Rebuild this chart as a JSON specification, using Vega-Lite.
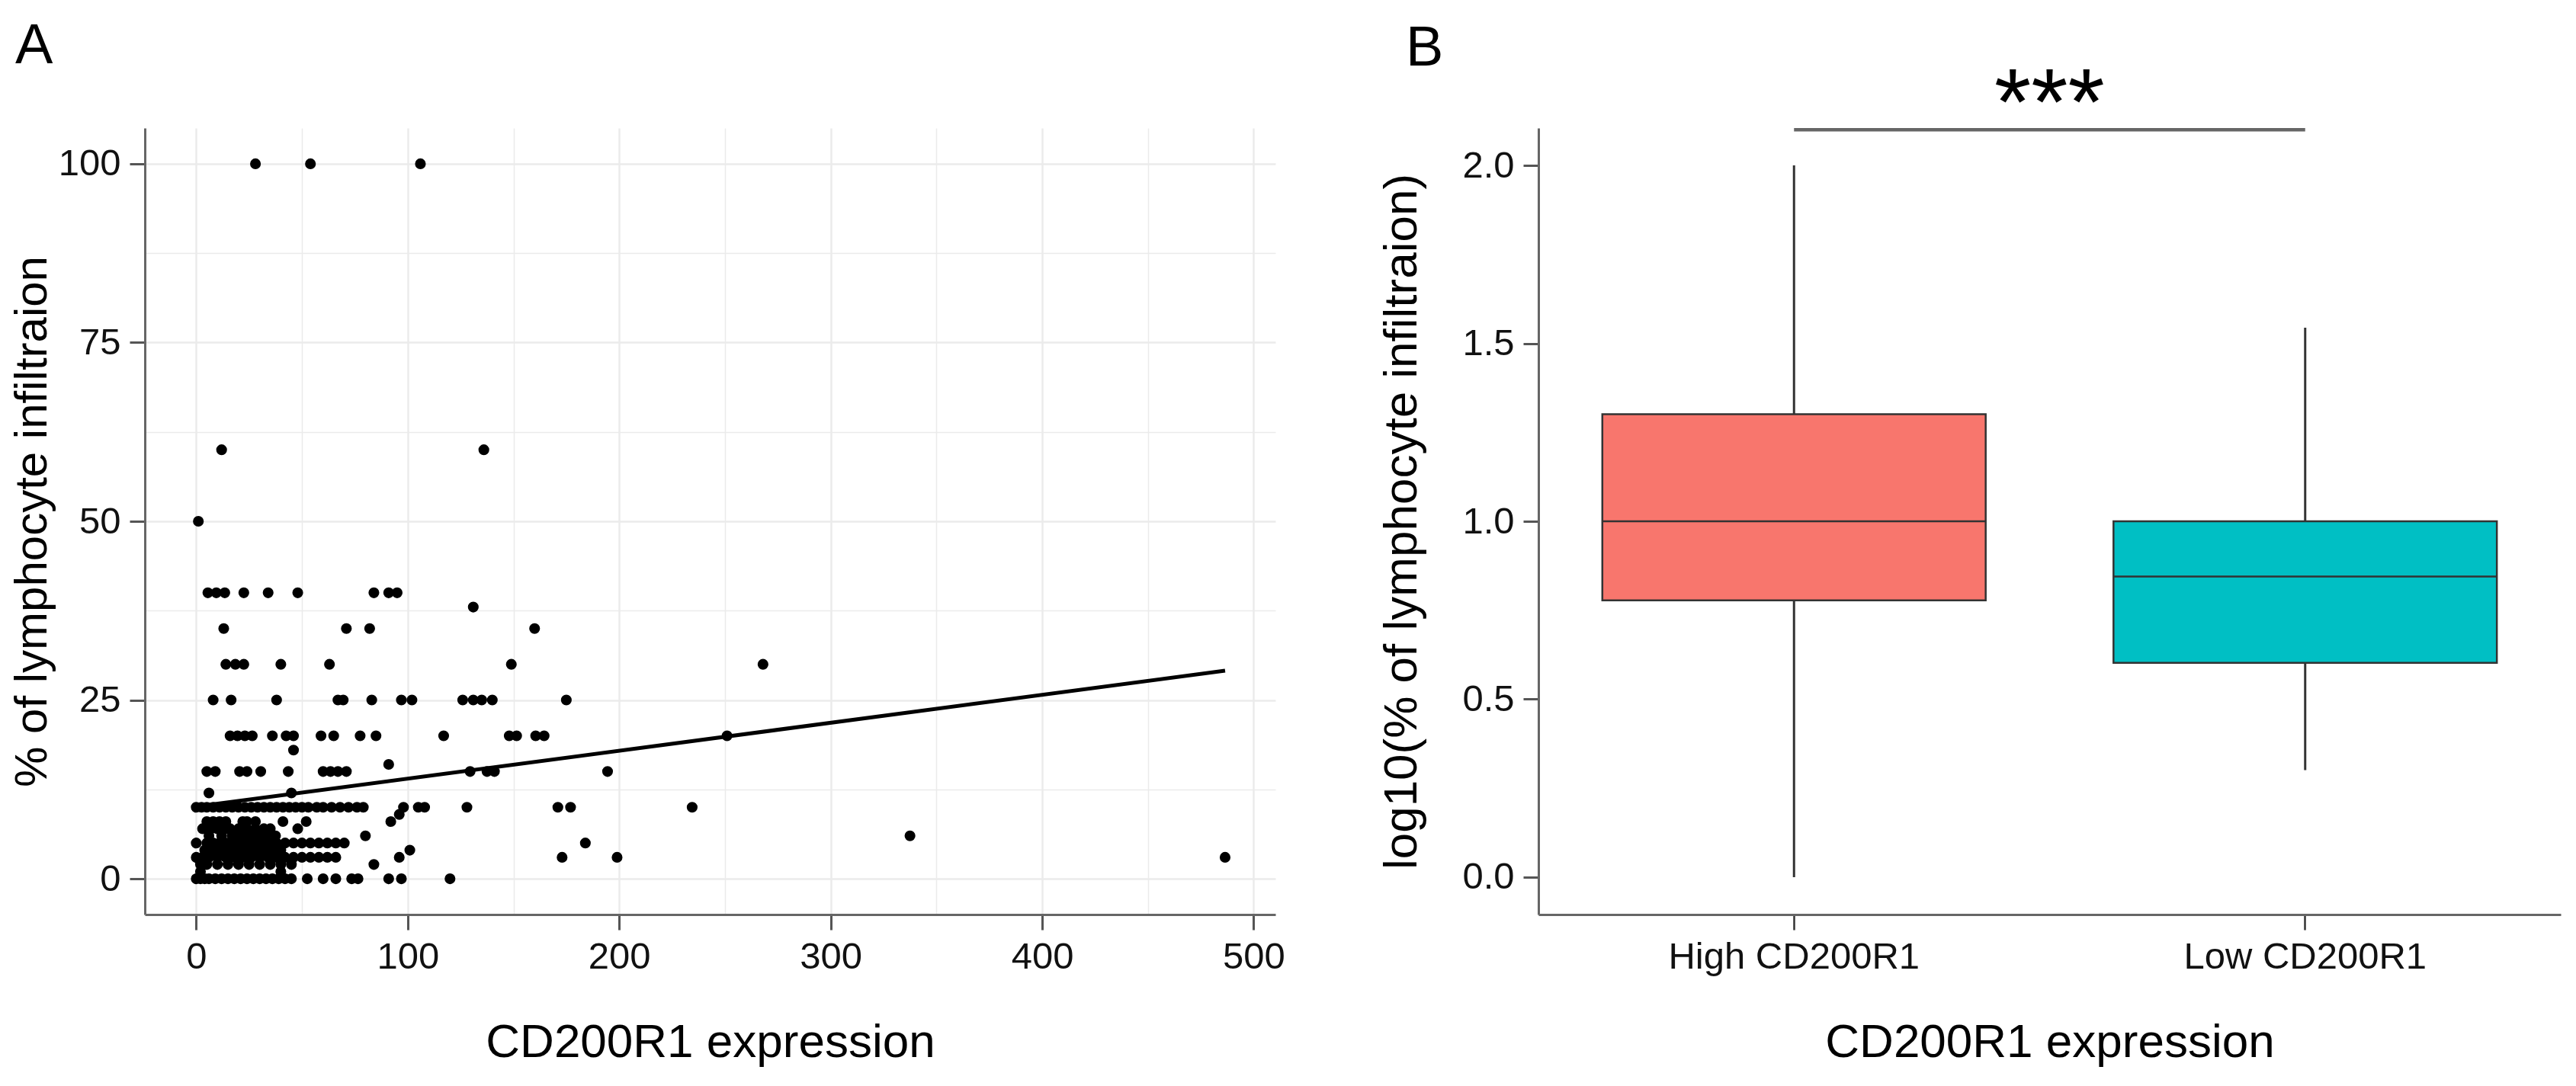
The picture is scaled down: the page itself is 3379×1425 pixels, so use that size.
{
  "$schema": "https://vega.github.io/schema/vega-lite/v6.json",
  "background": "white",
  "padding": {"left": 12, "top": 24, "right": 5, "bottom": 5},
  "config": {
    "view": {"stroke": null},
    "font": "Liberation Sans",
    "axis": {
      "domainColor": "#666666",
      "domainWidth": 3,
      "tickColor": "#555555",
      "tickWidth": 3,
      "tickSize": 20,
      "labelFontSize": 49,
      "labelColor": "#111111",
      "labelLimit": 0,
      "labelFont": "Liberation Sans",
      "titleFont": "Liberation Sans",
      "titleFontSize": 62,
      "titleFontWeight": "normal",
      "titleColor": "#000000",
      "gridColor": "#ebebeb"
    },
    "title": {"font": "Liberation Sans", "fontSize": 74, "fontWeight": "normal", "color": "#000000"}
  },
  "datasets": {
    "scatter": [
      {"CD200R1": 28, "lymph": 100}, {"CD200R1": 54, "lymph": 100}, {"CD200R1": 106, "lymph": 100},
      {"CD200R1": 12, "lymph": 60}, {"CD200R1": 136, "lymph": 60},
      {"CD200R1": 1, "lymph": 50},
      {"CD200R1": 5.5, "lymph": 40}, {"CD200R1": 9.5, "lymph": 40}, {"CD200R1": 13.5, "lymph": 40}, {"CD200R1": 22.5, "lymph": 40}, {"CD200R1": 34, "lymph": 40}, {"CD200R1": 48, "lymph": 40}, {"CD200R1": 84, "lymph": 40}, {"CD200R1": 91, "lymph": 40}, {"CD200R1": 95, "lymph": 40},
      {"CD200R1": 131, "lymph": 38},
      {"CD200R1": 13, "lymph": 35}, {"CD200R1": 71, "lymph": 35}, {"CD200R1": 82, "lymph": 35}, {"CD200R1": 160, "lymph": 35},
      {"CD200R1": 14, "lymph": 30}, {"CD200R1": 18.5, "lymph": 30}, {"CD200R1": 22.5, "lymph": 30}, {"CD200R1": 40, "lymph": 30}, {"CD200R1": 63, "lymph": 30}, {"CD200R1": 149, "lymph": 30}, {"CD200R1": 268, "lymph": 30},
      {"CD200R1": 8, "lymph": 25}, {"CD200R1": 16.5, "lymph": 25}, {"CD200R1": 38, "lymph": 25}, {"CD200R1": 67, "lymph": 25}, {"CD200R1": 69.5, "lymph": 25}, {"CD200R1": 83, "lymph": 25}, {"CD200R1": 97, "lymph": 25}, {"CD200R1": 102, "lymph": 25}, {"CD200R1": 126, "lymph": 25}, {"CD200R1": 131, "lymph": 25}, {"CD200R1": 135, "lymph": 25}, {"CD200R1": 140, "lymph": 25}, {"CD200R1": 175, "lymph": 25},
      {"CD200R1": 16, "lymph": 20}, {"CD200R1": 19.5, "lymph": 20}, {"CD200R1": 23, "lymph": 20}, {"CD200R1": 26.5, "lymph": 20}, {"CD200R1": 36, "lymph": 20}, {"CD200R1": 42.5, "lymph": 20}, {"CD200R1": 46, "lymph": 20}, {"CD200R1": 59, "lymph": 20}, {"CD200R1": 65, "lymph": 20}, {"CD200R1": 77.5, "lymph": 20}, {"CD200R1": 85, "lymph": 20}, {"CD200R1": 117, "lymph": 20}, {"CD200R1": 148, "lymph": 20}, {"CD200R1": 151.5, "lymph": 20}, {"CD200R1": 160.5, "lymph": 20}, {"CD200R1": 164.5, "lymph": 20}, {"CD200R1": 251, "lymph": 20},
      {"CD200R1": 46, "lymph": 18},
      {"CD200R1": 91, "lymph": 16},
      {"CD200R1": 5, "lymph": 15}, {"CD200R1": 9, "lymph": 15}, {"CD200R1": 20.5, "lymph": 15}, {"CD200R1": 24, "lymph": 15}, {"CD200R1": 30.5, "lymph": 15}, {"CD200R1": 43.5, "lymph": 15}, {"CD200R1": 60, "lymph": 15}, {"CD200R1": 63.5, "lymph": 15}, {"CD200R1": 67, "lymph": 15}, {"CD200R1": 71, "lymph": 15}, {"CD200R1": 129.5, "lymph": 15}, {"CD200R1": 137.5, "lymph": 15}, {"CD200R1": 141, "lymph": 15}, {"CD200R1": 194.5, "lymph": 15},
      {"CD200R1": 6, "lymph": 12}, {"CD200R1": 45, "lymph": 12},
      {"CD200R1": 0, "lymph": 10}, {"CD200R1": 2.5, "lymph": 10}, {"CD200R1": 5, "lymph": 10}, {"CD200R1": 8, "lymph": 10}, {"CD200R1": 11, "lymph": 10}, {"CD200R1": 14, "lymph": 10}, {"CD200R1": 17, "lymph": 10}, {"CD200R1": 20, "lymph": 10}, {"CD200R1": 23, "lymph": 10}, {"CD200R1": 26, "lymph": 10}, {"CD200R1": 29, "lymph": 10}, {"CD200R1": 32, "lymph": 10}, {"CD200R1": 35, "lymph": 10}, {"CD200R1": 38, "lymph": 10}, {"CD200R1": 41, "lymph": 10}, {"CD200R1": 44, "lymph": 10}, {"CD200R1": 47, "lymph": 10}, {"CD200R1": 50, "lymph": 10}, {"CD200R1": 53, "lymph": 10}, {"CD200R1": 57, "lymph": 10}, {"CD200R1": 60, "lymph": 10}, {"CD200R1": 64, "lymph": 10}, {"CD200R1": 68, "lymph": 10}, {"CD200R1": 72, "lymph": 10}, {"CD200R1": 76, "lymph": 10}, {"CD200R1": 79, "lymph": 10}, {"CD200R1": 98, "lymph": 10}, {"CD200R1": 105, "lymph": 10}, {"CD200R1": 108, "lymph": 10}, {"CD200R1": 128, "lymph": 10}, {"CD200R1": 171, "lymph": 10}, {"CD200R1": 177, "lymph": 10}, {"CD200R1": 234.5, "lymph": 10},
      {"CD200R1": 96, "lymph": 9},
      {"CD200R1": 5, "lymph": 8}, {"CD200R1": 8, "lymph": 8}, {"CD200R1": 11, "lymph": 8}, {"CD200R1": 14, "lymph": 8}, {"CD200R1": 22, "lymph": 8}, {"CD200R1": 24, "lymph": 8}, {"CD200R1": 28, "lymph": 8}, {"CD200R1": 41, "lymph": 8}, {"CD200R1": 52, "lymph": 8}, {"CD200R1": 92, "lymph": 8},
      {"CD200R1": 3, "lymph": 7}, {"CD200R1": 7, "lymph": 7}, {"CD200R1": 10, "lymph": 7}, {"CD200R1": 14, "lymph": 7}, {"CD200R1": 16, "lymph": 7}, {"CD200R1": 20, "lymph": 7}, {"CD200R1": 24, "lymph": 7}, {"CD200R1": 28, "lymph": 7}, {"CD200R1": 32, "lymph": 7}, {"CD200R1": 35, "lymph": 7}, {"CD200R1": 48, "lymph": 7},
      {"CD200R1": 6, "lymph": 6}, {"CD200R1": 12, "lymph": 6}, {"CD200R1": 17, "lymph": 6}, {"CD200R1": 20, "lymph": 6}, {"CD200R1": 23, "lymph": 6}, {"CD200R1": 26, "lymph": 6}, {"CD200R1": 29, "lymph": 6}, {"CD200R1": 33, "lymph": 6}, {"CD200R1": 37.5, "lymph": 6}, {"CD200R1": 80, "lymph": 6}, {"CD200R1": 337.5, "lymph": 6},
      {"CD200R1": 0, "lymph": 5}, {"CD200R1": 5, "lymph": 5}, {"CD200R1": 8, "lymph": 5}, {"CD200R1": 11, "lymph": 5}, {"CD200R1": 14, "lymph": 5}, {"CD200R1": 17, "lymph": 5}, {"CD200R1": 20, "lymph": 5}, {"CD200R1": 23, "lymph": 5}, {"CD200R1": 26, "lymph": 5}, {"CD200R1": 29, "lymph": 5}, {"CD200R1": 32, "lymph": 5}, {"CD200R1": 35, "lymph": 5}, {"CD200R1": 38, "lymph": 5}, {"CD200R1": 42, "lymph": 5}, {"CD200R1": 46, "lymph": 5}, {"CD200R1": 50, "lymph": 5}, {"CD200R1": 54, "lymph": 5}, {"CD200R1": 58, "lymph": 5}, {"CD200R1": 62, "lymph": 5}, {"CD200R1": 66, "lymph": 5}, {"CD200R1": 70, "lymph": 5}, {"CD200R1": 184, "lymph": 5},
      {"CD200R1": 4, "lymph": 4}, {"CD200R1": 8, "lymph": 4}, {"CD200R1": 12, "lymph": 4}, {"CD200R1": 15, "lymph": 4}, {"CD200R1": 18, "lymph": 4}, {"CD200R1": 21, "lymph": 4}, {"CD200R1": 24, "lymph": 4}, {"CD200R1": 27, "lymph": 4}, {"CD200R1": 30, "lymph": 4}, {"CD200R1": 33, "lymph": 4}, {"CD200R1": 36, "lymph": 4}, {"CD200R1": 40, "lymph": 4}, {"CD200R1": 101, "lymph": 4},
      {"CD200R1": 0, "lymph": 3}, {"CD200R1": 3, "lymph": 3}, {"CD200R1": 6, "lymph": 3}, {"CD200R1": 10, "lymph": 3}, {"CD200R1": 14, "lymph": 3}, {"CD200R1": 18, "lymph": 3}, {"CD200R1": 22, "lymph": 3}, {"CD200R1": 26, "lymph": 3}, {"CD200R1": 30, "lymph": 3}, {"CD200R1": 34, "lymph": 3}, {"CD200R1": 38, "lymph": 3}, {"CD200R1": 42, "lymph": 3}, {"CD200R1": 46, "lymph": 3}, {"CD200R1": 50, "lymph": 3}, {"CD200R1": 54, "lymph": 3}, {"CD200R1": 58, "lymph": 3}, {"CD200R1": 62, "lymph": 3}, {"CD200R1": 66, "lymph": 3}, {"CD200R1": 96, "lymph": 3}, {"CD200R1": 173, "lymph": 3}, {"CD200R1": 199, "lymph": 3}, {"CD200R1": 486.5, "lymph": 3},
      {"CD200R1": 2, "lymph": 2}, {"CD200R1": 5, "lymph": 2}, {"CD200R1": 10, "lymph": 2}, {"CD200R1": 15, "lymph": 2}, {"CD200R1": 20, "lymph": 2}, {"CD200R1": 25, "lymph": 2}, {"CD200R1": 30, "lymph": 2}, {"CD200R1": 35, "lymph": 2}, {"CD200R1": 40, "lymph": 2}, {"CD200R1": 45, "lymph": 2}, {"CD200R1": 84, "lymph": 2},
      {"CD200R1": 2, "lymph": 1}, {"CD200R1": 40, "lymph": 1},
      {"CD200R1": 0, "lymph": 0}, {"CD200R1": 2, "lymph": 0}, {"CD200R1": 4, "lymph": 0}, {"CD200R1": 6, "lymph": 0}, {"CD200R1": 9, "lymph": 0}, {"CD200R1": 12, "lymph": 0}, {"CD200R1": 15, "lymph": 0}, {"CD200R1": 18, "lymph": 0}, {"CD200R1": 21, "lymph": 0}, {"CD200R1": 24, "lymph": 0}, {"CD200R1": 27, "lymph": 0}, {"CD200R1": 30, "lymph": 0}, {"CD200R1": 33, "lymph": 0}, {"CD200R1": 36, "lymph": 0}, {"CD200R1": 39, "lymph": 0}, {"CD200R1": 42, "lymph": 0}, {"CD200R1": 45, "lymph": 0}, {"CD200R1": 52.5, "lymph": 0}, {"CD200R1": 60, "lymph": 0}, {"CD200R1": 66, "lymph": 0}, {"CD200R1": 73.5, "lymph": 0}, {"CD200R1": 76.5, "lymph": 0}, {"CD200R1": 91, "lymph": 0}, {"CD200R1": 97, "lymph": 0}, {"CD200R1": 120, "lymph": 0}
    ],
    "fit": [
      {"CD200R1": 0, "lymph": 10.1},
      {"CD200R1": 486.5, "lymph": 29.1}
    ],
    "box": [
      {"group": "High CD200R1", "lower": 0, "q1": 0.778, "median": 1.0, "q3": 1.301, "upper": 2.0},
      {"group": "Low CD200R1", "lower": 0.301, "q1": 0.602, "median": 0.845, "q3": 1.0, "upper": 1.544}
    ],
    "sig": [
      {"from": "High CD200R1", "to": "Low CD200R1", "y": 2.1, "label": "***"}
    ]
  },
  "bounds": "flush",
  "spacing": 345,
  "hconcat": [
    {
      "width": 1483,
      "height": 1032,
      "title": {"text": "A", "anchor": "start", "frame": "group", "dx": -170, "offset": 11, "baseline": "alphabetic"},
      "layer": [
        {
          "data": {"name": "scatter"},
          "mark": {"type": "circle", "size": 200, "color": "#000000", "opacity": 1},
          "encoding": {
            "x": {
              "field": "CD200R1", "type": "quantitative",
              "scale": {"domain": [-24.3, 510.3], "nice": false, "zero": false},
              "axis": {
                "title": "CD200R1 expression",
                "values": [0, 50, 100, 150, 200, 250, 300, 350, 400, 450, 500],
                "labelExpr": "datum.value % 100 === 0 ? datum.label : ''",
                "tickOpacity": {"condition": {"test": "datum.value % 100 !== 0", "value": 0}, "value": 1},
                "grid": true,
                "gridWidth": {"condition": {"test": "datum.value % 100 !== 0", "value": 1.5}, "value": 2.5},
                "labelPadding": 11,
                "titlePadding": 57
              }
            },
            "y": {
              "field": "lymph", "type": "quantitative",
              "scale": {"domain": [-5, 105], "nice": false, "zero": false},
              "axis": {
                "title": "% of lymphocyte infiltraion",
                "titleFontSize": 60,
                "values": [0, 12.5, 25, 37.5, 50, 62.5, 75, 87.5, 100],
                "labelExpr": "datum.value % 25 === 0 ? datum.label : ''",
                "tickOpacity": {"condition": {"test": "datum.value % 25 !== 0", "value": 0}, "value": 1},
                "grid": true,
                "gridWidth": {"condition": {"test": "datum.value % 25 !== 0", "value": 1.5}, "value": 2.5},
                "labelPadding": 12,
                "titlePadding": 3
              }
            }
          }
        },
        {
          "data": {"name": "fit"},
          "mark": {"type": "line", "color": "#000000", "strokeWidth": 5},
          "encoding": {
            "x": {"field": "CD200R1", "type": "quantitative"},
            "y": {"field": "lymph", "type": "quantitative"}
          }
        }
      ]
    },
    {
      "width": 1341,
      "height": 1032,
      "title": {"text": "B", "anchor": "start", "frame": "group", "dx": -174, "offset": -82, "baseline": "alphabetic"},
      "layer": [
        {
          "data": {"name": "box"},
          "mark": {"type": "rule", "color": "#333333", "strokeWidth": 3},
          "encoding": {
            "x": {
              "field": "group", "type": "nominal",
              "scale": {"type": "band", "paddingInner": 0, "paddingOuter": 0, "domain": ["High CD200R1", "Low CD200R1"]},
              "axis": {"title": "CD200R1 expression", "labelAngle": 0, "grid": false, "tickColor": "#333333", "tickWidth": 2.5, "labelPadding": 11, "titlePadding": 57}
            },
            "y": {
              "field": "lower", "type": "quantitative",
              "scale": {"domain": [-0.105, 2.105], "nice": false, "zero": false},
              "axis": {"title": "log10(% of lymphocyte infiltraion)", "values": [0, 0.5, 1, 1.5, 2], "format": ".1f", "grid": false, "labelPadding": 12, "titlePadding": 47}
            },
            "y2": {"field": "upper"}
          }
        },
        {
          "data": {"name": "box"},
          "mark": {"type": "bar", "width": {"band": 0.75}, "stroke": "#333333", "strokeWidth": 2.5, "opacity": 1},
          "encoding": {
            "x": {"field": "group", "type": "nominal"},
            "y": {"field": "q1", "type": "quantitative"},
            "y2": {"field": "q3"},
            "color": {"field": "group", "type": "nominal", "scale": {"domain": ["High CD200R1", "Low CD200R1"], "range": ["#F8766D", "#00BFC4"]}, "legend": null}
          }
        },
        {
          "data": {"name": "box"},
          "mark": {"type": "bar", "width": {"band": 0.75}, "fill": null, "stroke": "#333333", "strokeWidth": 2.5},
          "encoding": {
            "x": {"field": "group", "type": "nominal"},
            "y": {"field": "median", "type": "quantitative"},
            "y2": {"field": "median"}
          }
        },
        {
          "data": {"name": "sig"},
          "mark": {"type": "rule", "color": "#666666", "strokeWidth": 4.5},
          "encoding": {
            "x": {"field": "from", "type": "nominal"},
            "x2": {"field": "to"},
            "y": {"field": "y", "type": "quantitative"}
          }
        },
        {
          "data": {"name": "sig"},
          "mark": {"type": "text", "font": "Liberation Sans", "fontSize": 124, "baseline": "alphabetic", "align": "center", "color": "#000000", "dy": 7},
          "encoding": {
            "x": {"field": "from", "type": "nominal", "bandPosition": 1},
            "y": {"field": "y", "type": "quantitative"},
            "text": {"field": "label"}
          }
        }
      ]
    }
  ]
}
